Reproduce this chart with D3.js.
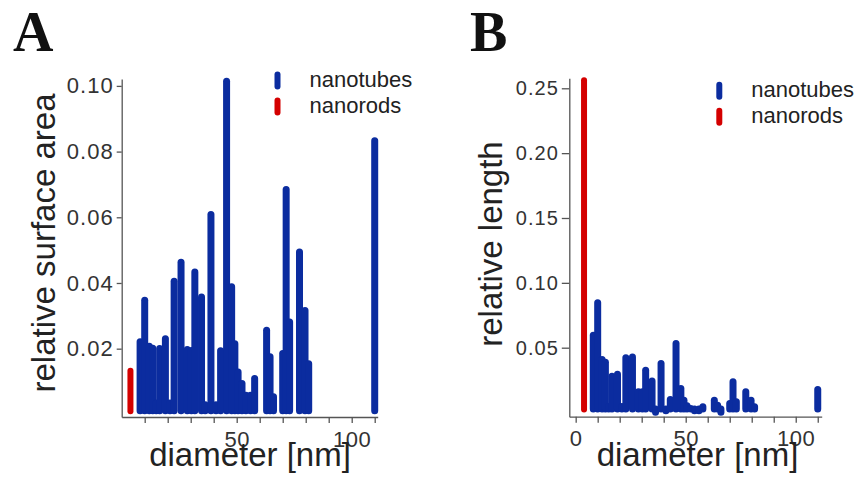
<!DOCTYPE html>
<html>
<head>
<meta charset="utf-8">
<script src="https://cdn.jsdelivr.net/npm/d3@7"></script>
<style>
	body { margin: 0; background: #fff; }
	svg { display: block; font-family: "Liberation Sans", Arial, sans-serif; }
	.axis path, .axis line { stroke: #555; stroke-width: 1.3; }
	.axis text { fill: #333; }
	.legend text { fill: #222; font-size: 22px; }
	.panel-label { font-family: "Liberation Serif", "Times New Roman", serif; font-weight: bold; font-size: 56px; fill: #111; }
	.axis-title { font-size: 33px; fill: #222; }
</style>
</head>
<body>
<svg id="chart"></svg>
<script>
const W = 857;
const H = 487;

// nanotube diameters [nm] shared by both panels
const diameters = [8, 10, 12, 13.5, 15, 16.5, 19, 21, 22.8, 25.8, 28.5, 30.3, 31.8, 34.7, 36.3, 38.8, 41, 43,
	45.6, 47.8, 49.2, 50.6, 52.3, 54, 56, 57.8, 63, 64.5, 66, 70, 71.5, 73, 77.3, 79.7, 81.3, 110];
// panel A: relative surface area of nanotubes
const areaTubes = [0.0232, 0.0358, 0.0218, 0.0212, 0.0045, 0.0211, 0.0241, 0.0045, 0.0416, 0.0474, 0.0208, 0.0205,
	0.0444, 0.0368, 0.0040, 0.0619, 0.0040, 0.0204, 0.1025, 0.0399, 0.0226, 0.0140, 0.0105, 0.0069, 0.0069, 0.0120,
	0.0267, 0.0186, 0.0064, 0.0196, 0.0695, 0.0292, 0.0505, 0.0327, 0.0165, 0.0844];
// panel B: relative length of nanotubes
const lengthTubes = [0.0623, 0.0873, 0.0436, 0.0415, 0.0073, 0.0307, 0.0322, 0.0073, 0.0449, 0.0456, 0.0187, 0.0187,
	0.0353, 0.0271, 0.0030, 0.0405, 0.0040, 0.0127, 0.0559, 0.0212, 0.0122, 0.0080, 0.0058, 0.0040, 0.0040, 0.0071,
	0.0122, 0.0083, 0.0030, 0.0096, 0.0264, 0.0110, 0.0187, 0.0122, 0.0071, 0.0204];
// nanorods
const rodDiameters = [3.8];
const areaRods = [0.0142];
const lengthRods = [0.2585];

const seriesNames = ['nanotubes', 'nanorods'];
const seriesColors = ['#0b2c9f', '#d40000'];

const xTicksA = [10, 20, 30, 40, 50, 60, 70, 80, 90, 100, 110];
const xLabelsA = [50, 100];
const yTicksA = [0.02, 0.04, 0.06, 0.08, 0.10];
const xTicksB = [0, 10, 20, 30, 40, 50, 60, 70, 80, 90, 100, 110];
const xLabelsB = [0, 50, 100];
const yTicksB = [0.05, 0.10, 0.15, 0.20, 0.25];

const BAR_W = 7;
const CAP = BAR_W / 2;

const svg = d3.select('#chart')
	.attr('width', W)
	.attr('height', H);

const drawPanel = (cfg) => {
	const g = svg.append('g');

	const x = d3.scaleLinear().domain(cfg.xDomain).range(cfg.xRange);
	const y = d3.scaleLinear().domain(cfg.yDomain).range(cfg.yRange);

	// bars: thick round-capped lines, visible from y(0) to y(v)
	const bars = (ds, vs, color, w) => {
		g.append('g')
			.selectAll('line')
			.data(ds.map((d, i) => [d, vs[i]]))
			.enter().append('line')
			.attr('x1', d => x(d[0]))
			.attr('x2', d => x(d[0]))
			.attr('y1', y(0) - w / 2)
			.attr('y2', d => y(d[1]) + w / 2)
			.attr('stroke', color)
			.attr('stroke-width', w)
			.attr('stroke-linecap', 'round');
	};
	bars(diameters, cfg.tubes, seriesColors[0], BAR_W);
	bars(rodDiameters, cfg.rods, seriesColors[1], 6);

	const xAxis = d3.axisBottom(x)
		.tickValues(cfg.xTicks)
		.tickSize(6)
		.tickSizeOuter(0)
		.tickPadding(8)
		.tickFormat(d => cfg.xLabels.includes(d) ? d : '');
	g.append('g')
		.attr('class', 'axis')
		.attr('transform', `translate(0,${cfg.yRange[0]})`)
		.call(xAxis)
		.selectAll('text')
		.attr('font-size', 22)
		.attr('letter-spacing', 0.5);

	const yAxis = d3.axisLeft(y)
		.tickValues(cfg.yTicks)
		.tickSize(cfg.yTickSize)
		.tickSizeOuter(0)
		.tickPadding(3)
		.tickFormat(d3.format('.2f'));
	g.append('g')
		.attr('class', 'axis')
		.attr('transform', `translate(${cfg.xRange[0]},0)`)
		.call(yAxis)
		.selectAll('text')
		.attr('font-size', cfg.yFont)
		.attr('letter-spacing', 1);

	g.selectAll('.axis .domain').attr('fill', 'none');

	g.append('text')
		.attr('class', 'axis-title')
		.attr('x', cfg.xTitle[0])
		.attr('y', cfg.xTitle[1])
		.attr('text-anchor', 'middle')
		.text('diameter [nm]');

	g.append('text')
		.attr('class', 'axis-title')
		.attr('transform', `translate(${cfg.yTitle[0]},${cfg.yTitle[1]}) rotate(-90)`)
		.attr('text-anchor', 'middle')
		.text(cfg.yTitleText);

	g.append('text')
		.attr('class', 'panel-label')
		.attr('x', cfg.label[0])
		.attr('y', cfg.label[1])
		.text(cfg.labelText);

	// legend
	const lg = g.append('g')
		.attr('class', 'legend')
		.attr('transform', `translate(${cfg.legend[0]},${cfg.legend[1]})`);
	const items = lg.selectAll('g')
		.data(seriesNames)
		.enter().append('g')
		.attr('transform', (d, i) => `translate(0,${i * 26})`);
	items.append('line')
		.attr('x1', 0).attr('x2', 0)
		.attr('y1', 3).attr('y2', 15)
		.attr('stroke', (d, i) => seriesColors[i])
		.attr('stroke-width', 6)
		.attr('stroke-linecap', 'round');
	items.append('text')
		.attr('x', 32)
		.attr('y', 15.5)
		.text(d => d);
};

drawPanel({
	xDomain: [0, 111.3], xRange: [121.7, 377.7],
	yDomain: [-0.0008, 0.1021], yRange: [417, 79],
	tubes: areaTubes, rods: areaRods,
	xTicks: xTicksA, xLabels: xLabelsA, yTicks: yTicksA,
	yTickSize: 5, yFont: 22,
	xTitle: [250, 466], yTitle: [55, 243], yTitleText: 'relative surface area',
	label: [13, 51], labelText: 'A',
	legend: [277.5, 71.5]
});

drawPanel({
	xDomain: [-2.9, 111.8], xRange: [569.3, 821.7],
	yDomain: [-0.0032, 0.2577], yRange: [416.7, 78.3],
	tubes: lengthTubes, rods: lengthRods,
	xTicks: xTicksB, xLabels: xLabelsB, yTicks: yTicksB,
	yTickSize: 7.5, yFont: 20,
	xTitle: [697.5, 466], yTitle: [502, 244], yTitleText: 'relative length',
	label: [470, 51], labelText: 'B',
	legend: [719.3, 81.7]
});
</script>
</body>
</html>
